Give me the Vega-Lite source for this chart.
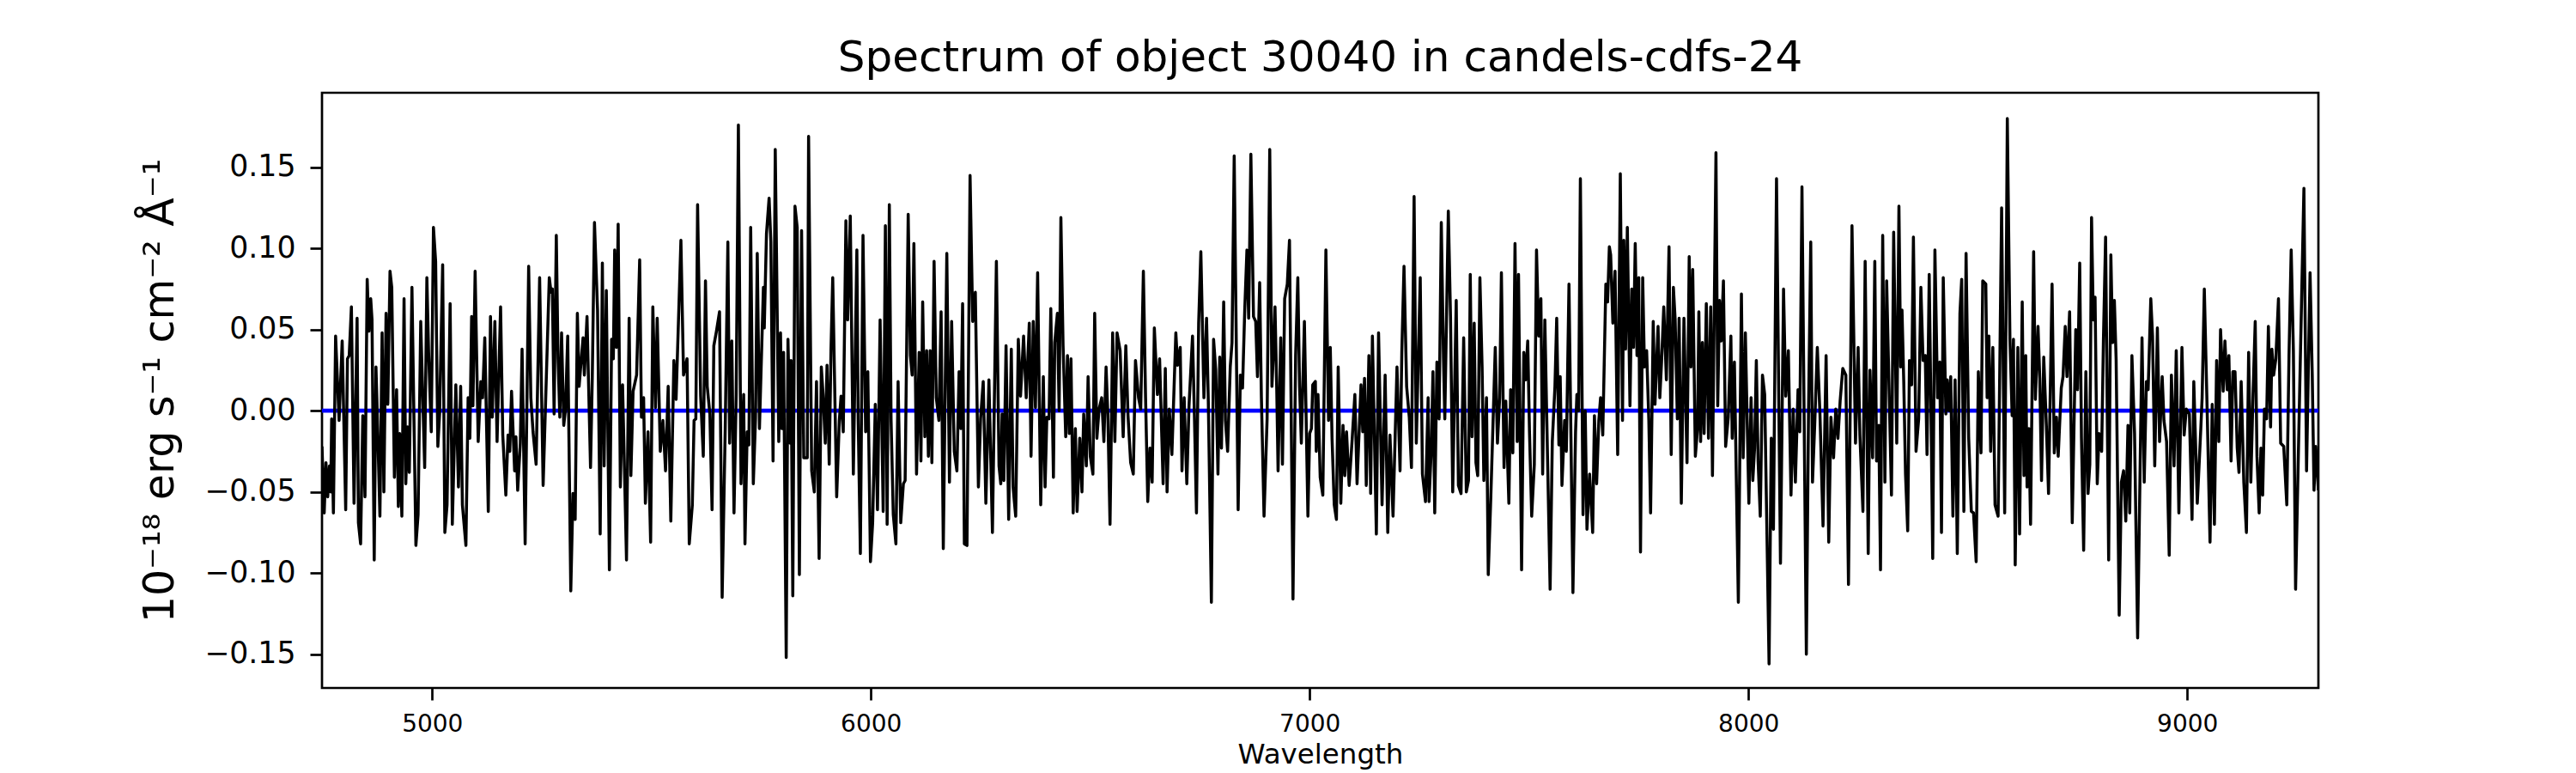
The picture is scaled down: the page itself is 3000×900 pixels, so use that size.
{
  "$schema": "https://vega.github.io/schema/vega-lite/v6.json",
  "width": 2325,
  "height": 693,
  "autosize": {"type": "none"},
  "padding": {"left": 375, "top": 108, "right": 300, "bottom": 99},
  "background": "white",
  "title": {
    "text": "Spectrum of object 30040 in candels-cdfs-24",
    "font": "DejaVu Sans",
    "fontSize": 50,
    "fontWeight": "normal",
    "color": "black",
    "anchor": "middle",
    "baseline": "bottom",
    "frame": "group",
    "offset": -34.5
  },
  "config": {
    "font": "DejaVu Sans",
    "view": {"stroke": "black", "strokeWidth": 2.7}
  },
  "encoding": {
    "y": {
      "field": "flux",
      "type": "quantitative",
      "scale": {"domain": [-0.1708, 0.1959], "nice": false, "zero": false},
      "axis": {
        "values": [-0.15, -0.1, -0.05, 0, 0.05, 0.1, 0.15],
        "format": ".2f",
        "title": "10⁻¹⁸ erg s⁻¹ cm⁻² Å⁻¹",
        "titleFont": "DejaVu Sans",
        "titleFontSize": 49,
        "titleFontWeight": "normal",
        "titleColor": "black",
        "titleAngle": 270,
        "titleBaseline": "alphabetic",
        "titleAlign": "center",
        "titleX": -174,
        "titleY": 346.5,
        "labelFont": "DejaVu Sans",
        "labelFontSize": 34.7,
        "labelColor": "black",
        "labelPadding": 17,
        "labelFlush": false,
        "tickSize": 14,
        "tickWidth": 2.7,
        "tickColor": "black",
        "domain": false,
        "grid": false
      }
    }
  },
  "layer": [
    {
      "data": {"values": [{"flux": 0}]},
      "mark": {"type": "rule", "color": "blue", "strokeWidth": 4.8}
    },
    {
      "data": {
        "values": [
          {"wavelength": 4749, "flux": -0.022}, {"wavelength": 4754, "flux": -0.063}, {"wavelength": 4758, "flux": -0.032}, {"wavelength": 4762, "flux": -0.053},
          {"wavelength": 4766, "flux": -0.034}, {"wavelength": 4769, "flux": -0.050}, {"wavelength": 4771, "flux": -0.005}, {"wavelength": 4775, "flux": -0.063},
          {"wavelength": 4780, "flux": 0.046}, {"wavelength": 4788, "flux": -0.006}, {"wavelength": 4795, "flux": 0.043}, {"wavelength": 4803, "flux": -0.061},
          {"wavelength": 4807, "flux": 0.032}, {"wavelength": 4811, "flux": 0.034}, {"wavelength": 4816, "flux": 0.064}, {"wavelength": 4822, "flux": -0.057},
          {"wavelength": 4829, "flux": 0.057}, {"wavelength": 4832, "flux": -0.069}, {"wavelength": 4837, "flux": -0.082}, {"wavelength": 4842, "flux": -0.003},
          {"wavelength": 4847, "flux": -0.053}, {"wavelength": 4852, "flux": 0.081}, {"wavelength": 4856, "flux": 0.049}, {"wavelength": 4860, "flux": 0.069},
          {"wavelength": 4863, "flux": 0.056}, {"wavelength": 4868, "flux": -0.092}, {"wavelength": 4872, "flux": 0.027}, {"wavelength": 4874, "flux": 0.008},
          {"wavelength": 4881, "flux": -0.065}, {"wavelength": 4886, "flux": 0.048}, {"wavelength": 4890, "flux": -0.050}, {"wavelength": 4895, "flux": 0.060},
          {"wavelength": 4899, "flux": 0.004}, {"wavelength": 4904, "flux": 0.086}, {"wavelength": 4908, "flux": 0.076}, {"wavelength": 4914, "flux": -0.041},
          {"wavelength": 4919, "flux": 0.013}, {"wavelength": 4923, "flux": -0.059}, {"wavelength": 4926, "flux": -0.014}, {"wavelength": 4931, "flux": -0.065},
          {"wavelength": 4936, "flux": 0.069}, {"wavelength": 4940, "flux": -0.045}, {"wavelength": 4944, "flux": -0.010}, {"wavelength": 4948, "flux": -0.038},
          {"wavelength": 4954, "flux": 0.076}, {"wavelength": 4963, "flux": -0.083}, {"wavelength": 4968, "flux": -0.064}, {"wavelength": 4974, "flux": 0.055},
          {"wavelength": 4983, "flux": -0.035}, {"wavelength": 4988, "flux": 0.082}, {"wavelength": 4992, "flux": 0.036}, {"wavelength": 4998, "flux": -0.013},
          {"wavelength": 5003, "flux": 0.113}, {"wavelength": 5008, "flux": 0.092}, {"wavelength": 5013, "flux": -0.022}, {"wavelength": 5017, "flux": -0.002},
          {"wavelength": 5024, "flux": 0.090}, {"wavelength": 5029, "flux": -0.075}, {"wavelength": 5034, "flux": -0.058}, {"wavelength": 5041, "flux": 0.066},
          {"wavelength": 5046, "flux": -0.070}, {"wavelength": 5054, "flux": 0.016}, {"wavelength": 5060, "flux": -0.047}, {"wavelength": 5065, "flux": 0.015},
          {"wavelength": 5069, "flux": -0.058}, {"wavelength": 5077, "flux": -0.083}, {"wavelength": 5082, "flux": 0.008}, {"wavelength": 5086, "flux": -0.017},
          {"wavelength": 5090, "flux": 0.058}, {"wavelength": 5093, "flux": 0.003}, {"wavelength": 5098, "flux": 0.086}, {"wavelength": 5105, "flux": -0.019},
          {"wavelength": 5111, "flux": 0.018}, {"wavelength": 5115, "flux": 0.008}, {"wavelength": 5120, "flux": 0.045}, {"wavelength": 5128, "flux": -0.062},
          {"wavelength": 5133, "flux": 0.058}, {"wavelength": 5137, "flux": -0.004}, {"wavelength": 5143, "flux": 0.055}, {"wavelength": 5148, "flux": -0.019},
          {"wavelength": 5156, "flux": 0.064}, {"wavelength": 5161, "flux": -0.015}, {"wavelength": 5168, "flux": -0.052}, {"wavelength": 5173, "flux": -0.015},
          {"wavelength": 5177, "flux": -0.025}, {"wavelength": 5181, "flux": 0.012}, {"wavelength": 5188, "flux": -0.037}, {"wavelength": 5191, "flux": -0.016},
          {"wavelength": 5195, "flux": -0.049}, {"wavelength": 5201, "flux": -0.020}, {"wavelength": 5205, "flux": 0.038}, {"wavelength": 5212, "flux": -0.082},
          {"wavelength": 5220, "flux": 0.089}, {"wavelength": 5225, "flux": 0.008}, {"wavelength": 5230, "flux": -0.013}, {"wavelength": 5237, "flux": -0.033},
          {"wavelength": 5245, "flux": 0.082}, {"wavelength": 5253, "flux": -0.046},
          {"wavelength": 5267, "flux": 0.082}, {"wavelength": 5271, "flux": 0.073}, {"wavelength": 5274, "flux": 0.075}, {"wavelength": 5278, "flux": -0.002},
          {"wavelength": 5283, "flux": 0.108}, {"wavelength": 5287, "flux": 0.032}, {"wavelength": 5291, "flux": -0.004}, {"wavelength": 5295, "flux": 0.048},
          {"wavelength": 5300, "flux": -0.009}, {"wavelength": 5304, "flux": 0.001}, {"wavelength": 5309, "flux": 0.046}, {"wavelength": 5316, "flux": -0.111},
          {"wavelength": 5321, "flux": -0.051}, {"wavelength": 5326, "flux": -0.067}, {"wavelength": 5331, "flux": 0.060}, {"wavelength": 5335, "flux": 0.015},
          {"wavelength": 5340, "flux": 0.032}, {"wavelength": 5344, "flux": 0.045}, {"wavelength": 5347, "flux": 0.022}, {"wavelength": 5353, "flux": 0.058},
          {"wavelength": 5361, "flux": -0.035}, {"wavelength": 5365, "flux": 0.020}, {"wavelength": 5370, "flux": 0.116}, {"wavelength": 5377, "flux": 0.062},
          {"wavelength": 5383, "flux": -0.076}, {"wavelength": 5388, "flux": 0.091}, {"wavelength": 5392, "flux": -0.034}, {"wavelength": 5397, "flux": 0.074},
          {"wavelength": 5404, "flux": -0.098}, {"wavelength": 5409, "flux": 0.044}, {"wavelength": 5413, "flux": 0.032}, {"wavelength": 5416, "flux": 0.099},
          {"wavelength": 5420, "flux": 0.039}, {"wavelength": 5424, "flux": 0.115}, {"wavelength": 5429, "flux": -0.047}, {"wavelength": 5434, "flux": 0.016},
          {"wavelength": 5443, "flux": -0.092}, {"wavelength": 5449, "flux": 0.057}, {"wavelength": 5453, "flux": -0.040}, {"wavelength": 5458, "flux": 0.012},
          {"wavelength": 5466, "flux": 0.022}, {"wavelength": 5473, "flux": 0.093}, {"wavelength": 5477, "flux": -0.004}, {"wavelength": 5482, "flux": 0.008},
          {"wavelength": 5486, "flux": -0.057}, {"wavelength": 5492, "flux": -0.013}, {"wavelength": 5498, "flux": -0.081}, {"wavelength": 5503, "flux": 0.064},
          {"wavelength": 5509, "flux": 0.002}, {"wavelength": 5513, "flux": 0.057}, {"wavelength": 5520, "flux": -0.025}, {"wavelength": 5526, "flux": -0.006},
          {"wavelength": 5532, "flux": -0.037}, {"wavelength": 5538, "flux": 0.015}, {"wavelength": 5544, "flux": -0.068}, {"wavelength": 5551, "flux": 0.031},
          {"wavelength": 5556, "flux": 0.007}, {"wavelength": 5567, "flux": 0.105}, {"wavelength": 5573, "flux": 0.022}, {"wavelength": 5581, "flux": 0.032},
          {"wavelength": 5586, "flux": -0.082}, {"wavelength": 5593, "flux": -0.058}, {"wavelength": 5597, "flux": -0.006}, {"wavelength": 5601, "flux": -0.005},
          {"wavelength": 5605, "flux": 0.127}, {"wavelength": 5612, "flux": 0.009}, {"wavelength": 5618, "flux": -0.028}, {"wavelength": 5623, "flux": 0.080},
          {"wavelength": 5627, "flux": 0.015}, {"wavelength": 5633, "flux": -0.002}, {"wavelength": 5638, "flux": -0.061}, {"wavelength": 5642, "flux": 0.040},
          {"wavelength": 5648, "flux": 0.049}, {"wavelength": 5655, "flux": 0.061}, {"wavelength": 5661, "flux": -0.115}, {"wavelength": 5668, "flux": -0.011},
          {"wavelength": 5674, "flux": 0.104}, {"wavelength": 5678, "flux": -0.020}, {"wavelength": 5683, "flux": 0.043}, {"wavelength": 5688, "flux": -0.063},
          {"wavelength": 5693, "flux": 0.010}, {"wavelength": 5698, "flux": 0.176}, {"wavelength": 5704, "flux": -0.045}, {"wavelength": 5710, "flux": 0.010},
          {"wavelength": 5713, "flux": -0.082}, {"wavelength": 5718, "flux": -0.013}, {"wavelength": 5722, "flux": -0.021}, {"wavelength": 5726, "flux": 0.113},
          {"wavelength": 5732, "flux": -0.045}, {"wavelength": 5737, "flux": -0.005}, {"wavelength": 5741, "flux": 0.097}, {"wavelength": 5746, "flux": -0.011},
          {"wavelength": 5755, "flux": 0.076},
          {"wavelength": 5757, "flux": 0.051}, {"wavelength": 5762, "flux": 0.109}, {"wavelength": 5768, "flux": 0.131}, {"wavelength": 5772, "flux": 0.104},
          {"wavelength": 5777, "flux": -0.031}, {"wavelength": 5782, "flux": 0.161}, {"wavelength": 5790, "flux": -0.019}, {"wavelength": 5794, "flux": 0.048},
          {"wavelength": 5797, "flux": -0.011}, {"wavelength": 5801, "flux": 0.036}, {"wavelength": 5807, "flux": -0.152}, {"wavelength": 5811, "flux": 0.044},
          {"wavelength": 5816, "flux": -0.020}, {"wavelength": 5818, "flux": 0.031}, {"wavelength": 5822, "flux": -0.114}, {"wavelength": 5827, "flux": 0.126},
          {"wavelength": 5832, "flux": 0.113}, {"wavelength": 5837, "flux": -0.101}, {"wavelength": 5842, "flux": 0.111}, {"wavelength": 5847, "flux": -0.029},
          {"wavelength": 5855, "flux": -0.029}, {"wavelength": 5858, "flux": 0.169}, {"wavelength": 5865, "flux": -0.037}, {"wavelength": 5871, "flux": -0.050},
          {"wavelength": 5876, "flux": 0.018}, {"wavelength": 5882, "flux": -0.091}, {"wavelength": 5887, "flux": 0.027}, {"wavelength": 5891, "flux": 0.010},
          {"wavelength": 5896, "flux": -0.020}, {"wavelength": 5900, "flux": 0.028}, {"wavelength": 5905, "flux": -0.033}, {"wavelength": 5909, "flux": 0.037},
          {"wavelength": 5913, "flux": 0.082}, {"wavelength": 5922, "flux": -0.053}, {"wavelength": 5928, "flux": -0.006}, {"wavelength": 5932, "flux": 0.009},
          {"wavelength": 5937, "flux": -0.013}, {"wavelength": 5943, "flux": 0.117}, {"wavelength": 5947, "flux": 0.056}, {"wavelength": 5953, "flux": 0.120},
          {"wavelength": 5960, "flux": -0.039}, {"wavelength": 5968, "flux": 0.099}, {"wavelength": 5971, "flux": -0.005}, {"wavelength": 5976, "flux": -0.088},
          {"wavelength": 5982, "flux": 0.108}, {"wavelength": 5988, "flux": -0.013}, {"wavelength": 5993, "flux": 0.024}, {"wavelength": 5999, "flux": -0.093},
          {"wavelength": 6004, "flux": -0.069}, {"wavelength": 6010, "flux": 0.004}, {"wavelength": 6015, "flux": -0.061}, {"wavelength": 6021, "flux": 0.056},
          {"wavelength": 6028, "flux": -0.062}, {"wavelength": 6033, "flux": 0.114}, {"wavelength": 6037, "flux": -0.070}, {"wavelength": 6042, "flux": 0.127},
          {"wavelength": 6046, "flux": -0.006}, {"wavelength": 6051, "flux": -0.064}, {"wavelength": 6057, "flux": -0.082}, {"wavelength": 6062, "flux": 0.018},
          {"wavelength": 6068, "flux": -0.069}, {"wavelength": 6074, "flux": -0.045}, {"wavelength": 6078, "flux": -0.043}, {"wavelength": 6085, "flux": 0.121},
          {"wavelength": 6090, "flux": 0.034}, {"wavelength": 6094, "flux": 0.022}, {"wavelength": 6098, "flux": 0.103}, {"wavelength": 6104, "flux": -0.039},
          {"wavelength": 6110, "flux": 0.036}, {"wavelength": 6114, "flux": -0.031}, {"wavelength": 6118, "flux": 0.067}, {"wavelength": 6123, "flux": -0.016},
          {"wavelength": 6127, "flux": 0.037}, {"wavelength": 6131, "flux": -0.028}, {"wavelength": 6135, "flux": 0.037}, {"wavelength": 6139, "flux": -0.032},
          {"wavelength": 6144, "flux": 0.092}, {"wavelength": 6149, "flux": 0.008}, {"wavelength": 6155, "flux": -0.006}, {"wavelength": 6160, "flux": 0.061},
          {"wavelength": 6165, "flux": -0.085}, {"wavelength": 6173, "flux": 0.097}, {"wavelength": 6179, "flux": -0.044}, {"wavelength": 6184, "flux": 0.055},
          {"wavelength": 6190, "flux": -0.025}, {"wavelength": 6196, "flux": -0.037}, {"wavelength": 6201, "flux": 0.024}, {"wavelength": 6205, "flux": -0.011},
          {"wavelength": 6209, "flux": 0.066}, {"wavelength": 6213, "flux": -0.082}, {"wavelength": 6219, "flux": -0.083}, {"wavelength": 6226, "flux": 0.145},
          {"wavelength": 6232, "flux": 0.055}, {"wavelength": 6238, "flux": 0.073}, {"wavelength": 6245, "flux": -0.047}, {"wavelength": 6250, "flux": -0.005},
          {"wavelength": 6256, "flux": 0.018}, {"wavelength": 6262, "flux": -0.057},
          {"wavelength": 6269, "flux": 0.019}, {"wavelength": 6277, "flux": -0.075}, {"wavelength": 6286, "flux": 0.092}, {"wavelength": 6292, "flux": -0.034},
          {"wavelength": 6296, "flux": -0.045}, {"wavelength": 6299, "flux": -0.002}, {"wavelength": 6303, "flux": -0.043}, {"wavelength": 6308, "flux": 0.040},
          {"wavelength": 6314, "flux": -0.067}, {"wavelength": 6320, "flux": 0.038}, {"wavelength": 6324, "flux": -0.047}, {"wavelength": 6330, "flux": -0.065},
          {"wavelength": 6336, "flux": 0.044}, {"wavelength": 6341, "flux": 0.009}, {"wavelength": 6348, "flux": 0.046}, {"wavelength": 6354, "flux": 0.008},
          {"wavelength": 6361, "flux": 0.054}, {"wavelength": 6365, "flux": -0.028}, {"wavelength": 6370, "flux": 0.055}, {"wavelength": 6375, "flux": 0.002},
          {"wavelength": 6380, "flux": 0.085}, {"wavelength": 6387, "flux": -0.058}, {"wavelength": 6393, "flux": 0.021}, {"wavelength": 6397, "flux": -0.047},
          {"wavelength": 6401, "flux": -0.004}, {"wavelength": 6406, "flux": -0.005}, {"wavelength": 6410, "flux": 0.063}, {"wavelength": 6416, "flux": -0.041},
          {"wavelength": 6419, "flux": 0.042}, {"wavelength": 6425, "flux": 0.060}, {"wavelength": 6429, "flux": 0.000}, {"wavelength": 6433, "flux": 0.119},
          {"wavelength": 6438, "flux": 0.040}, {"wavelength": 6444, "flux": -0.016}, {"wavelength": 6448, "flux": 0.034}, {"wavelength": 6452, "flux": -0.014},
          {"wavelength": 6456, "flux": 0.032}, {"wavelength": 6461, "flux": -0.063}, {"wavelength": 6466, "flux": -0.011}, {"wavelength": 6470, "flux": -0.062},
          {"wavelength": 6476, "flux": -0.017}, {"wavelength": 6481, "flux": -0.050}, {"wavelength": 6485, "flux": -0.002}, {"wavelength": 6491, "flux": -0.034},
          {"wavelength": 6495, "flux": 0.021}, {"wavelength": 6500, "flux": -0.028}, {"wavelength": 6506, "flux": -0.039}, {"wavelength": 6510, "flux": 0.060},
          {"wavelength": 6515, "flux": -0.017}, {"wavelength": 6520, "flux": 0.001}, {"wavelength": 6526, "flux": 0.008}, {"wavelength": 6531, "flux": -0.019},
          {"wavelength": 6536, "flux": 0.027}, {"wavelength": 6540, "flux": -0.002}, {"wavelength": 6545, "flux": -0.070}, {"wavelength": 6551, "flux": 0.048},
          {"wavelength": 6556, "flux": -0.019}, {"wavelength": 6561, "flux": 0.048}, {"wavelength": 6568, "flux": 0.037}, {"wavelength": 6575, "flux": -0.016},
          {"wavelength": 6581, "flux": 0.040}, {"wavelength": 6586, "flux": -0.003}, {"wavelength": 6592, "flux": -0.032}, {"wavelength": 6598, "flux": -0.039},
          {"wavelength": 6603, "flux": 0.031}, {"wavelength": 6610, "flux": 0.008}, {"wavelength": 6615, "flux": 0.001}, {"wavelength": 6621, "flux": 0.086},
          {"wavelength": 6626, "flux": 0.008}, {"wavelength": 6631, "flux": -0.056}, {"wavelength": 6636, "flux": -0.023}, {"wavelength": 6641, "flux": -0.044},
          {"wavelength": 6646, "flux": 0.051}, {"wavelength": 6653, "flux": 0.010}, {"wavelength": 6658, "flux": 0.032}, {"wavelength": 6666, "flux": -0.045},
          {"wavelength": 6671, "flux": 0.026}, {"wavelength": 6675, "flux": -0.050}, {"wavelength": 6680, "flux": 0.001}, {"wavelength": 6686, "flux": -0.027},
          {"wavelength": 6695, "flux": 0.048}, {"wavelength": 6699, "flux": 0.028}, {"wavelength": 6705, "flux": 0.039}, {"wavelength": 6709, "flux": -0.037},
          {"wavelength": 6714, "flux": 0.008}, {"wavelength": 6720, "flux": -0.045}, {"wavelength": 6725, "flux": 0.003}, {"wavelength": 6733, "flux": 0.046},
          {"wavelength": 6737, "flux": 0.001}, {"wavelength": 6742, "flux": -0.063}, {"wavelength": 6747, "flux": 0.054}, {"wavelength": 6752, "flux": 0.098},
          {"wavelength": 6759, "flux": 0.008}, {"wavelength": 6765, "flux": 0.057},
          {"wavelength": 6769, "flux": 0.006}, {"wavelength": 6776, "flux": -0.118}, {"wavelength": 6781, "flux": 0.044}, {"wavelength": 6786, "flux": 0.025},
          {"wavelength": 6791, "flux": -0.039}, {"wavelength": 6795, "flux": 0.033}, {"wavelength": 6799, "flux": -0.023}, {"wavelength": 6804, "flux": 0.067},
          {"wavelength": 6808, "flux": -0.006}, {"wavelength": 6813, "flux": -0.025}, {"wavelength": 6819, "flux": 0.027}, {"wavelength": 6823, "flux": 0.042},
          {"wavelength": 6828, "flux": 0.157}, {"wavelength": 6837, "flux": -0.061}, {"wavelength": 6842, "flux": 0.022}, {"wavelength": 6847, "flux": 0.014},
          {"wavelength": 6852, "flux": 0.062}, {"wavelength": 6857, "flux": 0.099}, {"wavelength": 6861, "flux": 0.057}, {"wavelength": 6866, "flux": 0.158},
          {"wavelength": 6872, "flux": 0.058}, {"wavelength": 6877, "flux": 0.055}, {"wavelength": 6881, "flux": 0.021}, {"wavelength": 6886, "flux": 0.079},
          {"wavelength": 6890, "flux": 0.008}, {"wavelength": 6896, "flux": -0.065}, {"wavelength": 6903, "flux": -0.005}, {"wavelength": 6909, "flux": 0.161},
          {"wavelength": 6914, "flux": 0.015}, {"wavelength": 6918, "flux": 0.039}, {"wavelength": 6921, "flux": 0.064}, {"wavelength": 6925, "flux": 0.013},
          {"wavelength": 6928, "flux": -0.037}, {"wavelength": 6934, "flux": 0.045}, {"wavelength": 6938, "flux": -0.033}, {"wavelength": 6943, "flux": 0.069},
          {"wavelength": 6949, "flux": 0.078}, {"wavelength": 6954, "flux": 0.105}, {"wavelength": 6962, "flux": -0.116}, {"wavelength": 6968, "flux": 0.034},
          {"wavelength": 6973, "flux": 0.082}, {"wavelength": 6977, "flux": 0.015}, {"wavelength": 6981, "flux": -0.020}, {"wavelength": 6988, "flux": 0.055},
          {"wavelength": 6996, "flux": -0.065}, {"wavelength": 7000, "flux": -0.014}, {"wavelength": 7004, "flux": -0.011}, {"wavelength": 7007, "flux": 0.016},
          {"wavelength": 7013, "flux": 0.018}, {"wavelength": 7015, "flux": -0.025}, {"wavelength": 7019, "flux": 0.010}, {"wavelength": 7024, "flux": -0.041},
          {"wavelength": 7030, "flux": -0.052}, {"wavelength": 7037, "flux": 0.099}, {"wavelength": 7043, "flux": -0.006}, {"wavelength": 7047, "flux": 0.039},
          {"wavelength": 7051, "flux": -0.017}, {"wavelength": 7056, "flux": -0.058}, {"wavelength": 7061, "flux": -0.067}, {"wavelength": 7065, "flux": 0.027},
          {"wavelength": 7071, "flux": -0.057}, {"wavelength": 7076, "flux": -0.009}, {"wavelength": 7080, "flux": -0.040}, {"wavelength": 7084, "flux": -0.013},
          {"wavelength": 7090, "flux": -0.046}, {"wavelength": 7097, "flux": -0.017}, {"wavelength": 7103, "flux": 0.010}, {"wavelength": 7108, "flux": -0.045},
          {"wavelength": 7113, "flux": -0.011}, {"wavelength": 7117, "flux": 0.016}, {"wavelength": 7121, "flux": -0.013}, {"wavelength": 7125, "flux": 0.020},
          {"wavelength": 7129, "flux": -0.046}, {"wavelength": 7135, "flux": 0.034}, {"wavelength": 7139, "flux": -0.051}, {"wavelength": 7143, "flux": 0.046},
          {"wavelength": 7152, "flux": -0.076}, {"wavelength": 7157, "flux": 0.048}, {"wavelength": 7165, "flux": -0.058}, {"wavelength": 7172, "flux": 0.022},
          {"wavelength": 7178, "flux": -0.075}, {"wavelength": 7183, "flux": -0.015}, {"wavelength": 7190, "flux": -0.065}, {"wavelength": 7199, "flux": 0.027},
          {"wavelength": 7206, "flux": -0.037}, {"wavelength": 7210, "flux": 0.036}, {"wavelength": 7215, "flux": 0.089}, {"wavelength": 7221, "flux": 0.015},
          {"wavelength": 7227, "flux": -0.004}, {"wavelength": 7232, "flux": -0.035}, {"wavelength": 7238, "flux": 0.132}, {"wavelength": 7243, "flux": -0.020},
          {"wavelength": 7252, "flux": 0.082}, {"wavelength": 7257, "flux": -0.039}, {"wavelength": 7264, "flux": -0.056}, {"wavelength": 7270, "flux": 0.008},
          {"wavelength": 7272, "flux": -0.056}, {"wavelength": 7277, "flux": -0.025}, {"wavelength": 7281, "flux": 0.024}, {"wavelength": 7285, "flux": -0.063},
          {"wavelength": 7290, "flux": 0.030}, {"wavelength": 7295, "flux": -0.005}, {"wavelength": 7300, "flux": 0.116}, {"wavelength": 7305, "flux": 0.032},
          {"wavelength": 7308, "flux": -0.005}, {"wavelength": 7316, "flux": 0.123}, {"wavelength": 7321, "flux": 0.058}, {"wavelength": 7326, "flux": -0.050},
          {"wavelength": 7334, "flux": 0.068}, {"wavelength": 7339, "flux": -0.046}, {"wavelength": 7345, "flux": -0.051}, {"wavelength": 7351, "flux": 0.045},
          {"wavelength": 7357, "flux": -0.050}, {"wavelength": 7362, "flux": -0.043}, {"wavelength": 7366, "flux": 0.084}, {"wavelength": 7370, "flux": -0.016},
          {"wavelength": 7375, "flux": 0.054}, {"wavelength": 7379, "flux": -0.032}, {"wavelength": 7383, "flux": -0.040}, {"wavelength": 7388, "flux": 0.082},
          {"wavelength": 7393, "flux": 0.027}, {"wavelength": 7397, "flux": -0.043}, {"wavelength": 7403, "flux": 0.008}, {"wavelength": 7407, "flux": -0.101},
          {"wavelength": 7413, "flux": -0.052}, {"wavelength": 7423, "flux": 0.039}, {"wavelength": 7428, "flux": -0.020}, {"wavelength": 7433, "flux": 0.008},
          {"wavelength": 7437, "flux": 0.085}, {"wavelength": 7443, "flux": -0.035}, {"wavelength": 7447, "flux": 0.006}, {"wavelength": 7454, "flux": -0.057},
          {"wavelength": 7458, "flux": 0.013}, {"wavelength": 7463, "flux": -0.026}, {"wavelength": 7468, "flux": 0.103}, {"wavelength": 7473, "flux": -0.019},
          {"wavelength": 7476, "flux": 0.084}, {"wavelength": 7483, "flux": -0.098}, {"wavelength": 7488, "flux": 0.036}, {"wavelength": 7492, "flux": 0.019},
          {"wavelength": 7497, "flux": 0.043}, {"wavelength": 7501, "flux": -0.013}, {"wavelength": 7506, "flux": -0.065}, {"wavelength": 7512, "flux": -0.033},
          {"wavelength": 7517, "flux": 0.099}, {"wavelength": 7522, "flux": 0.046}, {"wavelength": 7527, "flux": 0.069}, {"wavelength": 7531, "flux": -0.039},
          {"wavelength": 7536, "flux": 0.056}, {"wavelength": 7548, "flux": -0.110}, {"wavelength": 7553, "flux": -0.019}, {"wavelength": 7559, "flux": 0.015},
          {"wavelength": 7563, "flux": 0.057}, {"wavelength": 7568, "flux": -0.021}, {"wavelength": 7571, "flux": 0.021}, {"wavelength": 7575, "flux": -0.046},
          {"wavelength": 7581, "flux": -0.006}, {"wavelength": 7585, "flux": -0.025}, {"wavelength": 7591, "flux": 0.078}, {"wavelength": 7600, "flux": -0.112},
          {"wavelength": 7606, "flux": -0.013}, {"wavelength": 7609, "flux": 0.010}, {"wavelength": 7613, "flux": 0.000}, {"wavelength": 7617, "flux": 0.143},
          {"wavelength": 7623, "flux": -0.064}, {"wavelength": 7628, "flux": 0.000}, {"wavelength": 7632, "flux": -0.073}, {"wavelength": 7638, "flux": -0.039},
          {"wavelength": 7645, "flux": -0.075}, {"wavelength": 7649, "flux": -0.003}, {"wavelength": 7654, "flux": -0.045}, {"wavelength": 7659, "flux": -0.006},
          {"wavelength": 7663, "flux": 0.008}, {"wavelength": 7668, "flux": -0.015}, {"wavelength": 7675, "flux": 0.078}, {"wavelength": 7679, "flux": 0.067},
          {"wavelength": 7683, "flux": 0.101}, {"wavelength": 7686, "flux": 0.096}, {"wavelength": 7691, "flux": 0.054}, {"wavelength": 7696, "flux": 0.086},
          {"wavelength": 7702, "flux": -0.027}, {"wavelength": 7708, "flux": 0.146}, {"wavelength": 7713, "flux": -0.006}, {"wavelength": 7716, "flux": 0.105},
          {"wavelength": 7720, "flux": 0.038}, {"wavelength": 7724, "flux": 0.113}, {"wavelength": 7730, "flux": 0.003}, {"wavelength": 7734, "flux": 0.075},
          {"wavelength": 7738, "flux": 0.039}, {"wavelength": 7742, "flux": 0.103}, {"wavelength": 7746, "flux": 0.034}, {"wavelength": 7750, "flux": 0.082},
          {"wavelength": 7754, "flux": -0.087}, {"wavelength": 7759, "flux": 0.082}, {"wavelength": 7763, "flux": 0.027}, {"wavelength": 7768, "flux": 0.037},
          {"wavelength": 7773, "flux": -0.006}, {"wavelength": 7777, "flux": -0.063},
          {"wavelength": 7783, "flux": 0.055}, {"wavelength": 7787, "flux": 0.004}, {"wavelength": 7794, "flux": 0.052}, {"wavelength": 7798, "flux": 0.008},
          {"wavelength": 7802, "flux": 0.030}, {"wavelength": 7807, "flux": 0.064}, {"wavelength": 7813, "flux": 0.019}, {"wavelength": 7819, "flux": 0.101},
          {"wavelength": 7824, "flux": -0.027}, {"wavelength": 7829, "flux": 0.076}, {"wavelength": 7833, "flux": 0.056}, {"wavelength": 7838, "flux": -0.005},
          {"wavelength": 7842, "flux": 0.057}, {"wavelength": 7847, "flux": -0.057}, {"wavelength": 7853, "flux": 0.057}, {"wavelength": 7860, "flux": -0.032},
          {"wavelength": 7865, "flux": 0.095}, {"wavelength": 7869, "flux": 0.027}, {"wavelength": 7873, "flux": 0.087}, {"wavelength": 7879, "flux": -0.028},
          {"wavelength": 7884, "flux": -0.011}, {"wavelength": 7887, "flux": 0.061}, {"wavelength": 7891, "flux": -0.019}, {"wavelength": 7895, "flux": 0.042},
          {"wavelength": 7899, "flux": -0.014}, {"wavelength": 7904, "flux": 0.066}, {"wavelength": 7909, "flux": -0.017}, {"wavelength": 7914, "flux": 0.064},
          {"wavelength": 7918, "flux": -0.040}, {"wavelength": 7926, "flux": 0.159}, {"wavelength": 7930, "flux": 0.003}, {"wavelength": 7934, "flux": 0.068},
          {"wavelength": 7938, "flux": 0.043}, {"wavelength": 7943, "flux": 0.080}, {"wavelength": 7948, "flux": -0.022}, {"wavelength": 7954, "flux": -0.004},
          {"wavelength": 7960, "flux": 0.046}, {"wavelength": 7963, "flux": -0.017}, {"wavelength": 7968, "flux": 0.030}, {"wavelength": 7977, "flux": -0.118},
          {"wavelength": 7984, "flux": 0.072}, {"wavelength": 7988, "flux": -0.029}, {"wavelength": 7993, "flux": 0.048}, {"wavelength": 8001, "flux": -0.057},
          {"wavelength": 8006, "flux": 0.008}, {"wavelength": 8010, "flux": -0.043}, {"wavelength": 8014, "flux": -0.023}, {"wavelength": 8018, "flux": 0.031},
          {"wavelength": 8022, "flux": -0.031}, {"wavelength": 8027, "flux": -0.065}, {"wavelength": 8032, "flux": 0.022}, {"wavelength": 8037, "flux": 0.010},
          {"wavelength": 8047, "flux": -0.156}, {"wavelength": 8052, "flux": -0.017}, {"wavelength": 8057, "flux": -0.073}, {"wavelength": 8064, "flux": 0.143},
          {"wavelength": 8073, "flux": -0.094}, {"wavelength": 8080, "flux": 0.075}, {"wavelength": 8085, "flux": 0.009}, {"wavelength": 8091, "flux": 0.037},
          {"wavelength": 8097, "flux": -0.052}, {"wavelength": 8102, "flux": 0.001}, {"wavelength": 8107, "flux": -0.044}, {"wavelength": 8113, "flux": 0.013},
          {"wavelength": 8117, "flux": -0.013}, {"wavelength": 8122, "flux": 0.138}, {"wavelength": 8132, "flux": -0.150}, {"wavelength": 8137, "flux": 0.001},
          {"wavelength": 8142, "flux": 0.104}, {"wavelength": 8146, "flux": -0.044}, {"wavelength": 8151, "flux": -0.009}, {"wavelength": 8157, "flux": 0.039},
          {"wavelength": 8163, "flux": -0.002}, {"wavelength": 8170, "flux": -0.071}, {"wavelength": 8177, "flux": 0.034}, {"wavelength": 8183, "flux": -0.081},
          {"wavelength": 8188, "flux": -0.004}, {"wavelength": 8194, "flux": -0.029}, {"wavelength": 8199, "flux": 0.001}, {"wavelength": 8204, "flux": -0.017},
          {"wavelength": 8209, "flux": 0.006}, {"wavelength": 8215, "flux": 0.026}, {"wavelength": 8222, "flux": 0.022}, {"wavelength": 8228, "flux": -0.107},
          {"wavelength": 8236, "flux": 0.114}, {"wavelength": 8244, "flux": -0.020}, {"wavelength": 8250, "flux": 0.039}, {"wavelength": 8254, "flux": -0.015},
          {"wavelength": 8261, "flux": -0.062}, {"wavelength": 8266, "flux": 0.092}, {"wavelength": 8273, "flux": -0.088}, {"wavelength": 8277, "flux": 0.025},
          {"wavelength": 8283, "flux": -0.029}, {"wavelength": 8288, "flux": 0.092}, {"wavelength": 8292, "flux": -0.031}, {"wavelength": 8297, "flux": -0.009},
          {"wavelength": 8301, "flux": -0.098}, {"wavelength": 8306, "flux": 0.108}, {"wavelength": 8311, "flux": -0.044}, {"wavelength": 8315, "flux": 0.080},
          {"wavelength": 8321, "flux": 0.008}, {"wavelength": 8326, "flux": -0.052}, {"wavelength": 8331, "flux": 0.110}, {"wavelength": 8338, "flux": -0.020},
          {"wavelength": 8343, "flux": 0.126}, {"wavelength": 8347, "flux": 0.027}, {"wavelength": 8350, "flux": 0.062}, {"wavelength": 8354, "flux": 0.018},
          {"wavelength": 8358, "flux": -0.039}, {"wavelength": 8363, "flux": -0.074}, {"wavelength": 8367, "flux": 0.031}, {"wavelength": 8372, "flux": 0.016},
          {"wavelength": 8376, "flux": 0.107}, {"wavelength": 8382, "flux": -0.025}, {"wavelength": 8388, "flux": -0.005}, {"wavelength": 8393, "flux": 0.076},
          {"wavelength": 8398, "flux": 0.031}, {"wavelength": 8403, "flux": 0.034}, {"wavelength": 8407, "flux": -0.027}, {"wavelength": 8412, "flux": 0.084},
          {"wavelength": 8416, "flux": 0.000}, {"wavelength": 8420, "flux": -0.091}, {"wavelength": 8425, "flux": 0.099}, {"wavelength": 8431, "flux": 0.008},
          {"wavelength": 8436, "flux": 0.030}, {"wavelength": 8440, "flux": -0.075}, {"wavelength": 8444, "flux": 0.082}, {"wavelength": 8450, "flux": -0.002},
          {"wavelength": 8453, "flux": 0.019}, {"wavelength": 8457, "flux": 0.000}, {"wavelength": 8461, "flux": 0.021}, {"wavelength": 8466, "flux": -0.065},
          {"wavelength": 8471, "flux": 0.019}, {"wavelength": 8476, "flux": -0.088}, {"wavelength": 8482, "flux": 0.060}, {"wavelength": 8486, "flux": 0.081},
          {"wavelength": 8491, "flux": -0.062}, {"wavelength": 8496, "flux": 0.097}, {"wavelength": 8502, "flux": -0.017}, {"wavelength": 8508, "flux": -0.062},
          {"wavelength": 8513, "flux": -0.063}, {"wavelength": 8519, "flux": -0.093}, {"wavelength": 8524, "flux": 0.024}, {"wavelength": 8530, "flux": -0.026},
          {"wavelength": 8534, "flux": 0.080}, {"wavelength": 8541, "flux": 0.078}, {"wavelength": 8544, "flux": 0.008}, {"wavelength": 8548, "flux": 0.046},
          {"wavelength": 8552, "flux": -0.025}, {"wavelength": 8557, "flux": 0.039}, {"wavelength": 8562, "flux": -0.058}, {"wavelength": 8569, "flux": -0.065},
          {"wavelength": 8577, "flux": 0.125}, {"wavelength": 8584, "flux": -0.063}, {"wavelength": 8590, "flux": 0.180}, {"wavelength": 8596, "flux": 0.044},
          {"wavelength": 8601, "flux": -0.003}, {"wavelength": 8604, "flux": 0.044}, {"wavelength": 8608, "flux": -0.095}, {"wavelength": 8614, "flux": 0.039},
          {"wavelength": 8618, "flux": -0.076}, {"wavelength": 8624, "flux": 0.067}, {"wavelength": 8628, "flux": -0.040}, {"wavelength": 8632, "flux": 0.034},
          {"wavelength": 8635, "flux": -0.047}, {"wavelength": 8639, "flux": -0.011}, {"wavelength": 8643, "flux": -0.070}, {"wavelength": 8650, "flux": 0.098},
          {"wavelength": 8654, "flux": 0.007}, {"wavelength": 8660, "flux": 0.052}, {"wavelength": 8664, "flux": 0.020}, {"wavelength": 8668, "flux": -0.043},
          {"wavelength": 8673, "flux": 0.033}, {"wavelength": 8679, "flux": -0.009}, {"wavelength": 8684, "flux": -0.051}, {"wavelength": 8692, "flux": 0.078},
          {"wavelength": 8697, "flux": -0.026}, {"wavelength": 8702, "flux": -0.004}, {"wavelength": 8706, "flux": -0.028}, {"wavelength": 8713, "flux": 0.014},
          {"wavelength": 8717, "flux": 0.021}, {"wavelength": 8722, "flux": 0.052}, {"wavelength": 8726, "flux": 0.021}, {"wavelength": 8732, "flux": 0.061},
          {"wavelength": 8738, "flux": -0.069}, {"wavelength": 8746, "flux": 0.050}, {"wavelength": 8750, "flux": 0.013}, {"wavelength": 8755, "flux": 0.091},
          {"wavelength": 8759, "flux": -0.017}, {"wavelength": 8764, "flux": -0.086}, {"wavelength": 8769, "flux": 0.024}, {"wavelength": 8774, "flux": -0.051},
          {"wavelength": 8778, "flux": -0.033}, {"wavelength": 8782, "flux": 0.119},
          {"wavelength": 8786, "flux": 0.056}, {"wavelength": 8790, "flux": 0.070}, {"wavelength": 8795, "flux": -0.045}, {"wavelength": 8799, "flux": -0.014},
          {"wavelength": 8805, "flux": -0.025}, {"wavelength": 8809, "flux": 0.043}, {"wavelength": 8814, "flux": 0.107}, {"wavelength": 8821, "flux": -0.092},
          {"wavelength": 8826, "flux": 0.096}, {"wavelength": 8830, "flux": 0.042}, {"wavelength": 8834, "flux": 0.068}, {"wavelength": 8838, "flux": 0.032},
          {"wavelength": 8845, "flux": -0.126}, {"wavelength": 8850, "flux": -0.044}, {"wavelength": 8855, "flux": -0.037}, {"wavelength": 8860, "flux": -0.068},
          {"wavelength": 8865, "flux": -0.009}, {"wavelength": 8869, "flux": -0.063}, {"wavelength": 8874, "flux": 0.034}, {"wavelength": 8880, "flux": -0.014},
          {"wavelength": 8887, "flux": -0.140}, {"wavelength": 8897, "flux": 0.045}, {"wavelength": 8902, "flux": -0.044}, {"wavelength": 8907, "flux": 0.018},
          {"wavelength": 8911, "flux": 0.013}, {"wavelength": 8917, "flux": 0.069}, {"wavelength": 8921, "flux": 0.046}, {"wavelength": 8926, "flux": -0.034},
          {"wavelength": 8932, "flux": 0.051}, {"wavelength": 8937, "flux": -0.019}, {"wavelength": 8943, "flux": 0.021}, {"wavelength": 8947, "flux": -0.006},
          {"wavelength": 8953, "flux": -0.019}, {"wavelength": 8959, "flux": -0.089}, {"wavelength": 8964, "flux": 0.022}, {"wavelength": 8970, "flux": -0.034},
          {"wavelength": 8975, "flux": 0.037}, {"wavelength": 8981, "flux": -0.063}, {"wavelength": 8988, "flux": 0.039}, {"wavelength": 8993, "flux": -0.015},
          {"wavelength": 8998, "flux": 0.001}, {"wavelength": 9005, "flux": -0.002}, {"wavelength": 9011, "flux": -0.067}, {"wavelength": 9015, "flux": 0.018},
          {"wavelength": 9023, "flux": -0.057}, {"wavelength": 9031, "flux": -0.011}, {"wavelength": 9034, "flux": 0.008}, {"wavelength": 9039, "flux": 0.075},
          {"wavelength": 9046, "flux": -0.006}, {"wavelength": 9052, "flux": -0.081}, {"wavelength": 9057, "flux": 0.004}, {"wavelength": 9062, "flux": -0.070},
          {"wavelength": 9067, "flux": 0.031}, {"wavelength": 9072, "flux": -0.019}, {"wavelength": 9076, "flux": 0.050}, {"wavelength": 9082, "flux": 0.012},
          {"wavelength": 9086, "flux": 0.043}, {"wavelength": 9091, "flux": 0.013}, {"wavelength": 9095, "flux": 0.034}, {"wavelength": 9100, "flux": -0.031},
          {"wavelength": 9104, "flux": 0.024}, {"wavelength": 9109, "flux": 0.024}, {"wavelength": 9114, "flux": -0.023}, {"wavelength": 9118, "flux": -0.038},
          {"wavelength": 9123, "flux": 0.018}, {"wavelength": 9129, "flux": -0.044}, {"wavelength": 9135, "flux": -0.075}, {"wavelength": 9140, "flux": 0.036},
          {"wavelength": 9145, "flux": -0.044}, {"wavelength": 9150, "flux": 0.010}, {"wavelength": 9155, "flux": 0.055}, {"wavelength": 9159, "flux": -0.028},
          {"wavelength": 9164, "flux": -0.063}, {"wavelength": 9168, "flux": -0.023}, {"wavelength": 9172, "flux": -0.052}, {"wavelength": 9176, "flux": 0.001},
          {"wavelength": 9181, "flux": -0.005}, {"wavelength": 9185, "flux": 0.052}, {"wavelength": 9190, "flux": -0.010}, {"wavelength": 9193, "flux": 0.038},
          {"wavelength": 9197, "flux": 0.022}, {"wavelength": 9202, "flux": 0.032}, {"wavelength": 9208, "flux": 0.069}, {"wavelength": 9213, "flux": -0.020},
          {"wavelength": 9220, "flux": -0.022}, {"wavelength": 9227, "flux": -0.058}, {"wavelength": 9232, "flux": 0.034}, {"wavelength": 9237, "flux": 0.099},
          {"wavelength": 9242, "flux": 0.037}, {"wavelength": 9247, "flux": -0.110}, {"wavelength": 9256, "flux": 0.008}, {"wavelength": 9266, "flux": 0.137},
          {"wavelength": 9272, "flux": -0.037}, {"wavelength": 9280, "flux": 0.085}, {"wavelength": 9285, "flux": 0.022}, {"wavelength": 9289, "flux": -0.049},
          {"wavelength": 9293, "flux": -0.022}, {"wavelength": 9299, "flux": -0.049}
        ]
      },
      "mark": {"type": "line", "color": "black", "strokeWidth": 3.5, "strokeJoin": "round", "clip": true},
      "encoding": {
        "x": {
          "field": "wavelength",
          "type": "quantitative",
          "scale": {"domain": [4749, 9299], "nice": false, "zero": false},
          "axis": {
            "values": [5000, 6000, 7000, 8000, 9000],
            "format": "d",
            "title": "Wavelength",
            "titleFont": "DejaVu Sans",
            "titleFontSize": 32.5,
            "titleFontWeight": "normal",
            "titleColor": "black",
            "titleBaseline": "alphabetic",
            "titleAlign": "center",
            "titleX": 1162.5,
            "titleY": 87,
            "labelFont": "DejaVu Sans",
            "labelFontSize": 28,
            "labelColor": "black",
            "labelBaseline": "alphabetic",
            "labelPadding": 36,
            "labelFlush": false,
            "tickSize": 14,
            "tickWidth": 2.7,
            "tickColor": "black",
            "domain": false,
            "grid": false
          }
        }
      }
    }
  ]
}
